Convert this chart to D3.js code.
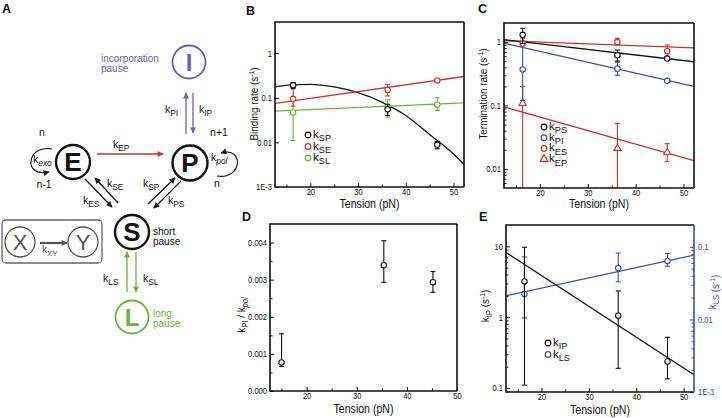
<!DOCTYPE html>
<html><head><meta charset="utf-8">
<script src="https://cdn.jsdelivr.net/npm/d3@7"></script>
<style>
body{margin:0;background:#fff}
svg{display:block}
text{font-family:"Liberation Sans",Arial,sans-serif}
.tk text{font-family:"Liberation Sans",Arial,sans-serif;font-size:9px}
</style>
</head><body><svg id="c" width="722" height="418"></svg>
<script>
// ---------- DATA ----------
const tension = [16.4, 36.2, 46.6];
const tensionD = [15.0, 35.4, 45.2];
// Panel B (binding rates)
const kSP = [0.19, 0.055, 0.0088], kSP_lo = [0.16, 0.04, 0.0072], kSP_hi = [0.22, 0.07, 0.0105];
const kSE = [0.095, 0.15, 0.245], kSE_lo = [0.065, 0.11, 0.225], kSE_hi = [0.17, 0.2, 0.265];
const kSL = [0.047, 0.065, 0.07], kSL_lo = [0.011, 0.037, 0.052], kSL_hi = [0.09, 0.09, 0.1];
const kSP_fitT = [12.6, 16, 20, 25, 30, 35, 40, 45, 50, 52.2];
const kSP_fitV = [0.175, 0.195, 0.2, 0.175, 0.13, 0.08, 0.04, 0.015, 0.0055, 0.0032];
const kSE_fitT = [12.6, 52.2], kSE_fitV = [0.075, 0.3];
const kSL_fitT = [12.6, 52.2], kSL_fitV = [0.05, 0.077];
// Panel C (termination rates)
const kPS = [1.3, 0.62, 0.55], kPS_lo = [0.95, 0.5, 0.52], kPS_hi = [1.65, 0.75, 0.58];
const kPI = [0.37, 0.38, 0.245], kPI_lo = [0.12, 0.3, 0.235], kPI_hi = [1.15, 0.48, 0.255];
const kES = [0.95, 1.0, 0.72], kES_lo = [0.88, 0.9, 0.6], kES_hi = [1.05, 1.15, 0.9];
const kEP = [0.11, 0.0215, 0.0185], kEP_lo = [0.001, 0.001, 0.013], kEP_hi = [0.2, 0.052, 0.025];
const fitT = [12.5, 52.2];
const kPS_fitV = [1.09, 0.49], kPI_fitV = [0.96, 0.2], kES_fitV = [1.05, 0.81], kEP_fitV = [0.095, 0.0135];
// Panel D
const ratioPI = [0.00077, 0.00339, 0.00293], ratioPI_lo = [0.00066, 0.00293, 0.00266], ratioPI_hi = [0.00154, 0.00405, 0.00322];
// Panel E
const kIP = [3.2, 1.05, 0.237], kIP_lo = [0.11, 0.19, 0.135], kIP_hi = [9.7, 2.35, 0.52];
const kLS = [0.0224, 0.051, 0.064], kLS_lo = [0.0105, 0.033, 0.054], kLS_hi = [0.0725, 0.082, 0.081];
const kIP_fitV = [8.2, 0.154], kLS_fitV = [0.0212, 0.077];
// tick labels
const xTicks = [20, 30, 40, 50], xMinor = [15, 25, 35, 45];
const bY = [0.001, 0.01, 0.1, 1], bYlab = ["1E-3", "0.01", "0.1", "1"];
const cY = [0.01, 0.1, 1], cYlab = ["0.01", "0.1", "1"];
const dY = [0, 0.001, 0.002, 0.003, 0.004], dYlab = ["0.000", "0.001", "0.002", "0.003", "0.004"];
const eYL = [0.1, 1, 10], eYLlab = ["0.1", "1", "10"];
const eYR = [0.001, 0.01, 0.1], eYRlab = ["1E-3", "0.01", "0.1"];

// ---------- STYLE ----------
const BLACK = "#111", RED = "#d3302c", BLUE = "#3c4ea6", GREEN = "#6cb23f", PURPLE = "#6e5fb0", GRAY = "#555";
const NARROW = 0.84;
const svg = d3.select("#c");

function logMinor(dom) {
  const out = [];
  for (let e = Math.floor(Math.log10(dom[0])); e <= Math.ceil(Math.log10(dom[1])); e++)
    for (let k = 2; k <= 9; k++) { const v = k * Math.pow(10, e); if (v > dom[0] && v < dom[1]) out.push(v); }
  return out;
}
function narrowTicks(a) {
  a.selectAll(".tick text").each(function () {
    const t = d3.select(this);
    const x = +t.attr("x") || 0;
    t.attr("x", x / NARROW).attr("transform", `scale(${NARROW},1)`);
  });
}
function kLabel(g, x, y, sub, opts = {}) {
  const fs = opts.fs || 11, col = opts.color || BLACK;
  const t = g.append("text").attr("x", x).attr("y", y).attr("fill", col).attr("font-size", fs)
    .attr("text-anchor", opts.anchor || "start");
  t.append("tspan").text("k");
  t.append("tspan").attr("dy", fs * 0.3).attr("font-size", fs * 0.8).attr("font-style", opts.italic ? "italic" : null).text(sub);
  return t;
}
let clipN = 0;
function makePanel(p) {
  const g = svg.append("g");
  const x = d3.scaleLinear().domain(p.xd).range([p.x0, p.x1]);
  const y = (p.ylog ? d3.scaleLog() : d3.scaleLinear()).domain(p.yd).range([p.y1, p.y0]);
  const id = "clip" + (clipN++);
  svg.append("clipPath").attr("id", id).append("rect").attr("x", p.x0).attr("y", p.y0).attr("width", p.x1 - p.x0).attr("height", p.y1 - p.y0);
  g.append("g").attr("class", "tk").attr("transform", `translate(0,${p.y1})`)
    .call(d3.axisBottom(x).tickValues(xTicks).tickSize(-4).tickPadding(2).tickFormat(d3.format("d")))
    .call(a => a.select(".domain").remove()).call(narrowTicks);
  g.append("g").attr("transform", `translate(0,${p.y1})`)
    .call(d3.axisBottom(x).tickValues(xMinor).tickSize(-2.5).tickFormat(""))
    .call(a => a.select(".domain").remove());
  g.append("g").attr("class", "tk").attr("transform", `translate(${p.x0},0)`)
    .call(d3.axisLeft(y).tickValues(p.yt).tickSize(-4).tickPadding(3).tickFormat((d, i) => p.ytl[i]))
    .call(a => a.select(".domain").remove()).call(narrowTicks);
  if (p.yminor) g.append("g").attr("transform", `translate(${p.x0},0)`)
    .call(d3.axisLeft(y).tickValues(p.yminor).tickSize(-2.5).tickFormat(""))
    .call(a => a.select(".domain").remove());
  g.selectAll(".tick line").attr("stroke", BLACK);
  g.selectAll(".tick text").attr("fill", BLACK);
  const plot = svg.append("g").attr("clip-path", `url(#${id})`);
  return { g, x, y, plot, p };
}
function drawFrame(P, rightColor) {
  const { x0, x1, y0, y1 } = P.p;
  const f = svg.append("g").attr("fill", "none").attr("stroke-width", 1.6);
  f.append("path").attr("d", `M${x1},${y0}H${x0}V${y1}H${x1}`).attr("stroke", BLACK);
  f.append("line").attr("x1", x1).attr("x2", x1).attr("y1", y0).attr("y2", y1).attr("stroke", rightColor || BLACK);
}
function xTitle(P, yb) {
  svg.append("text").attr("transform", `translate(${(P.p.x0 + P.p.x1) / 2},${yb}) scale(0.88,1)`).attr("text-anchor", "middle")
    .attr("font-size", 12).attr("fill", BLACK).text("Tension (pN)");
}
function fitLine(P, ys, T, V, color) {
  const line = d3.line().x((d, i) => P.x(T[i])).y(d => ys(d)).curve(d3.curveMonotoneX);
  P.plot.append("path").datum(V).attr("d", line).attr("fill", "none").attr("stroke", color).attr("stroke-width", 1.3);
}
function series(P, ys, T, V, lo, hi, color, shape) {
  const g = P.plot.append("g").attr("stroke", color).attr("fill", "none").attr("stroke-width", 1.1);
  T.forEach((t, i) => {
    const cx = P.x(t);
    g.append("line").attr("x1", cx).attr("x2", cx).attr("y1", ys(lo[i])).attr("y2", ys(hi[i]));
    [lo[i], hi[i]].forEach(v => g.append("line").attr("x1", cx - 2.5).attr("x2", cx + 2.5).attr("y1", ys(v)).attr("y2", ys(v)));
  });
  const m = P.plot.append("g");
  T.forEach((t, i) => {
    if (shape === "tri")
      m.append("path").attr("d", d3.symbol(d3.symbolTriangle, 22)()).attr("transform", `translate(${P.x(t)},${ys(V[i]) + 0.5})`)
        .attr("fill", "#fff").attr("stroke", color).attr("stroke-width", 1.1);
    else
      m.append("circle").attr("cx", P.x(t)).attr("cy", ys(V[i])).attr("r", 2.7).attr("fill", "#fff").attr("stroke", color).attr("stroke-width", 1.1);
  });
}
function legend(items, x, y, dy) {
  items.forEach((it, i) => {
    const yy = y + i * dy;
    if (it.shape === "tri")
      svg.append("path").attr("d", d3.symbol(d3.symbolTriangle, 26)()).attr("transform", `translate(${x},${yy})`).attr("fill", "none").attr("stroke", it.color).attr("stroke-width", 1.2);
    else
      svg.append("circle").attr("cx", x).attr("cy", yy).attr("r", 2.8).attr("fill", "none").attr("stroke", it.color).attr("stroke-width", 1.2);
    kLabel(svg, x + 5, yy + 3, it.sub, { fs: 11.5 });
  });
}
function yTitle(x, yc, build, color) {
  const t = svg.append("text").attr("transform", `translate(${x},${yc}) rotate(-90) scale(0.9,1)`).attr("text-anchor", "middle")
    .attr("font-size", 11).attr("fill", color || BLACK);
  build(t);
}
function sInv(t, pre) {
  t.append("tspan").text(pre + "(s"); t.append("tspan").attr("dy", -4).attr("font-size", 7.5).text("-1"); t.append("tspan").attr("dy", 4).text(")");
}

// ---------- PANEL B ----------
const B = makePanel({ x0: 275, x1: 464, y0: 22, y1: 187, xd: [12.6, 52.2], yd: [0.001, 5], ylog: true, yt: bY, ytl: bYlab });
fitLine(B, B.y, kSP_fitT, kSP_fitV, BLACK);
fitLine(B, B.y, kSE_fitT, kSE_fitV, RED);
fitLine(B, B.y, kSL_fitT, kSL_fitV, GREEN);
series(B, B.y, tension, kSL, kSL_lo, kSL_hi, GREEN);
series(B, B.y, tension, kSE, kSE_lo, kSE_hi, RED);
series(B, B.y, tension, kSP, kSP_lo, kSP_hi, BLACK);
drawFrame(B);
xTitle(B, 208);
yTitle(258, 104, t => sInv(t, "Binding rate "));
legend([{ sub: "SP", color: BLACK }, { sub: "SE", color: RED }, { sub: "SL", color: GREEN }], 308, 135, 11.5);

// ---------- PANEL C ----------
const C = makePanel({ x0: 504, x1: 694, y0: 23, y1: 188, xd: [12.5, 52.2], yd: [0.005, 2], ylog: true, yt: cY, ytl: cYlab, yminor: logMinor([0.005, 2]) });
fitLine(C, C.y, fitT, kES_fitV, RED);
fitLine(C, C.y, fitT, kPS_fitV, BLACK);
fitLine(C, C.y, fitT, kPI_fitV, BLUE);
fitLine(C, C.y, fitT, kEP_fitV, RED);
series(C, C.y, tension, kEP, kEP_lo, kEP_hi, RED, "tri");
series(C, C.y, tension, kPI, kPI_lo, kPI_hi, BLUE);
series(C, C.y, tension, kES, kES_lo, kES_hi, RED);
series(C, C.y, tension, kPS, kPS_lo, kPS_hi, BLACK);
drawFrame(C);
xTitle(C, 208);
yTitle(487, 94, t => sInv(t, "Termination rate "));
legend([{ sub: "PS", color: BLACK }, { sub: "PI", color: BLUE }, { sub: "ES", color: RED }, { sub: "EP", color: RED, shape: "tri" }], 544, 127, 10.7);

// ---------- PANEL D ----------
const D = makePanel({ x0: 270, x1: 457, y0: 224, y1: 391, xd: [12.7, 50], yd: [0, 0.0045], ylog: false, yt: dY, ytl: dYlab, yminor: [0.0005, 0.0015, 0.0025, 0.0035] });
series(D, D.y, tensionD, ratioPI, ratioPI_lo, ratioPI_hi, BLACK);
drawFrame(D);
xTitle(D, 413);
yTitle(245, 315, t => {
  t.append("tspan").text("k"); t.append("tspan").attr("dy", 3).attr("font-size", 8.5).text("PI");
  t.append("tspan").attr("dy", -3).text(" / k"); t.append("tspan").attr("dy", 3).attr("font-size", 8.5).attr("font-style", "italic").text("pol");
});

// ---------- PANEL E ----------
const E = makePanel({ x0: 506, x1: 694, y0: 225, y1: 392, xd: [12.5, 52.2], yd: [0.088, 20], ylog: true, yt: eYL, ytl: eYLlab, yminor: logMinor([0.088, 20]) });
const yR = d3.scaleLog().domain([0.001, 0.2]).range([392, 225]);
E.g.append("g").attr("class", "tk").attr("transform", "translate(694,0)")
  .call(d3.axisRight(yR).tickValues(eYR).tickSize(-4).tickPadding(4).tickFormat((d, i) => eYRlab[i]))
  .call(a => a.select(".domain").remove()).call(narrowTicks)
  .call(a => { a.selectAll("line").attr("stroke", BLUE); a.selectAll("text").attr("fill", BLUE); });
E.g.append("g").attr("transform", "translate(694,0)")
  .call(d3.axisRight(yR).tickValues(logMinor([0.001, 0.2])).tickSize(-2.5).tickFormat(""))
  .call(a => a.select(".domain").remove())
  .call(a => a.selectAll("line").attr("stroke", BLUE));
fitLine(E, E.y, fitT, kIP_fitV, BLACK);
fitLine(E, yR, fitT, kLS_fitV, BLUE);
series(E, yR, tension, kLS, kLS_lo, kLS_hi, BLUE);
series(E, E.y, tension, kIP, kIP_lo, kIP_hi, BLACK);
drawFrame(E, BLUE);
xTitle(E, 414);
yTitle(489, 306, t => {
  t.append("tspan").text("k"); t.append("tspan").attr("dy", 3).attr("font-size", 8.5).text("IP");
  t.append("tspan").attr("dy", -3).text(" "); sInv(t, " ");
});
yTitle(716, 292, t => {
  t.append("tspan").text("k"); t.append("tspan").attr("dy", 3).attr("font-size", 8.5).text("LS");
  t.append("tspan").attr("dy", -3).text(""); sInv(t, " ");
}, BLUE);
legend([{ sub: "IP", color: BLACK }, { sub: "LS", color: BLUE }], 548, 343, 11.5);

// ---------- PANEL LETTERS ----------
[["A", 2, 13], ["B", 246, 15], ["C", 478, 13], ["D", 242, 221], ["E", 479, 221]].forEach(([l, x, y]) =>
  svg.append("text").attr("x", x).attr("y", y).attr("font-size", 12.5).attr("font-weight", "bold").attr("fill", BLACK).text(l));

// ---------- PANEL A (scheme) ----------
const A = svg.append("g");
const defs = svg.append("defs");
function mk(id, col) {
  defs.append("marker").attr("id", id).attr("viewBox", "0 0 10 10").attr("refX", 9).attr("refY", 5)
    .attr("markerWidth", 7).attr("markerHeight", 6).attr("markerUnits", "userSpaceOnUse").attr("orient", "auto")
    .append("path").attr("d", "M0,0L10,5L0,10z").attr("fill", col);
}
mk("aBlack", BLACK); mk("aRed", RED); mk("aPurple", PURPLE); mk("aGreen", GREEN); mk("aGray", GRAY);
function arrow(d, col, mid, w) {
  A.append("path").attr("d", d).attr("fill", "none").attr("stroke", col).attr("stroke-width", w || 1.3).attr("marker-end", `url(#${mid})`);
}
function state(cx, cy, r, letter, col, sw, fs) {
  A.append("circle").attr("cx", cx).attr("cy", cy).attr("r", r).attr("fill", "#fff").attr("stroke", col).attr("stroke-width", sw);
  A.append("text").attr("x", cx).attr("y", cy + fs * 0.36).attr("text-anchor", "middle").attr("font-size", fs).attr("font-weight", "bold").attr("fill", col).text(letter);
}
state(189, 62, 16.5, "I", PURPLE, 1.8, 24);
state(190, 163, 17.5, "P", BLACK, 2.4, 26);
state(73, 162, 17, "E", BLACK, 2.4, 26);
state(132, 232, 17, "S", BLACK, 2.4, 26);
state(132, 317, 16.5, "L", GREEN, 1.8, 24);
A.append("text").attr("x", 101).attr("y", 62).attr("font-size", 10).attr("fill", PURPLE).text("incorporation");
A.append("text").attr("x", 101).attr("y", 72).attr("font-size", 10).attr("fill", PURPLE).text("pause");
A.append("text").attr("x", 153).attr("y", 235).attr("font-size", 10).attr("fill", BLACK).text("short");
A.append("text").attr("x", 153).attr("y", 245).attr("font-size", 10).attr("fill", BLACK).text("pause");
A.append("text").attr("x", 153).attr("y", 317).attr("font-size", 10).attr("fill", GREEN).text("long");
A.append("text").attr("x", 153).attr("y", 327).attr("font-size", 10).attr("fill", GREEN).text("pause");
[["n", 42, 136], ["n-1", 44, 188], ["n+1", 219, 136], ["n", 217, 187]].forEach(([s, x, y]) =>
  A.append("text").attr("x", x).attr("y", y).attr("text-anchor", "middle").attr("font-size", 10.5).attr("fill", BLACK).text(s));
arrow("M97,154H163", RED, "aRed", 1.4);
arrow("M186,134V93", PURPLE, "aPurple");
arrow("M193,93V133", PURPLE, "aPurple");
arrow("M118,203L95,178", BLACK, "aBlack");
arrow("M85,179L112,207", BLACK, "aBlack");
arrow("M148,204L175,178", BLACK, "aBlack");
arrow("M181,181L154,208", BLACK, "aBlack");
arrow("M127,292V252", GREEN, "aGreen");
arrow("M136,252V292", GREEN, "aGreen");
arrow("M52,149C27,144 22,178 49,172", BLACK, "aBlack", 1.1);
arrow("M217,176C243,180 244,146 221,153", BLACK, "aBlack", 1.1);
kLabel(A, 113, 148, "EP", { fs: 10.5 });
kLabel(A, 165, 113, "PI", { fs: 10.5 });
kLabel(A, 199, 113, "IP", { fs: 10.5 });
kLabel(A, 107, 187, "SE", { fs: 10.5 });
kLabel(A, 83, 204, "ES", { fs: 10.5 });
kLabel(A, 143, 187, "SP", { fs: 10.5 });
kLabel(A, 168, 204, "PS", { fs: 10.5 });
kLabel(A, 103, 282, "LS", { fs: 10.5 });
kLabel(A, 143, 282, "SL", { fs: 10.5 });
kLabel(A, 33, 163, "exo", { fs: 10.5, italic: true });
kLabel(A, 211, 161, "pol", { fs: 10.5, italic: true });
A.append("rect").attr("x", 2).attr("y", 220).attr("width", 100).attr("height", 43).attr("rx", 4).attr("fill", "none").attr("stroke", "#666").attr("stroke-width", 1.3);
[["X", 20], ["Y", 83]].forEach(([l, cx]) => {
  A.append("circle").attr("cx", cx).attr("cy", 242).attr("r", 15).attr("fill", "none").attr("stroke", GRAY).attr("stroke-width", 1.3);
  A.append("text").attr("x", cx).attr("y", 250).attr("text-anchor", "middle").attr("font-size", 22).attr("fill", GRAY).text(l);
});
arrow("M40,243H67", GRAY, "aGray", 2.2);
kLabel(A, 42, 253, "XY", { fs: 10, color: GRAY });
</script>
</body></html>
